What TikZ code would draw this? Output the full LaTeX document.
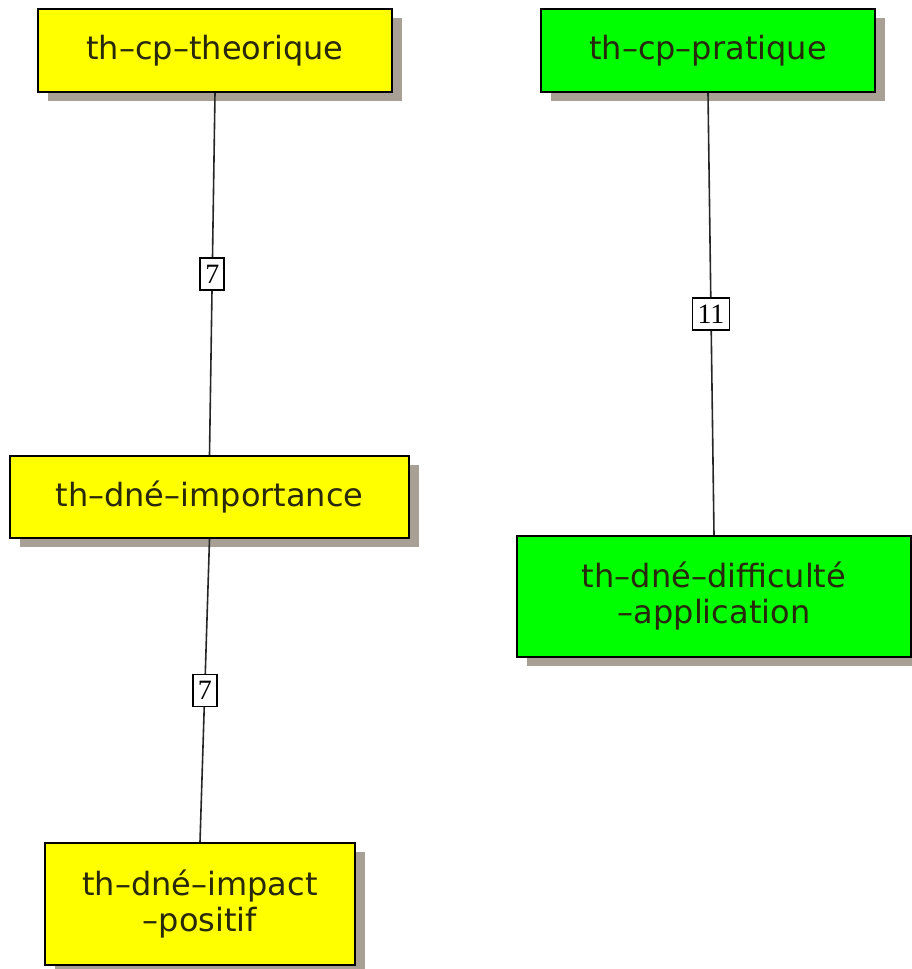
\documentclass[tikz,border=0pt]{standalone}
\usepackage{fontspec}
\setmainfont{DejaVu Sans}
\newfontfamily\labelfont{Liberation Serif}
\usetikzlibrary{shadows}
\definecolor{shadowgray}{RGB}{168,160,148}
\definecolor{boxtext}{RGB}{40,40,10}
\definecolor{boxyellow}{RGB}{255,255,0}
\definecolor{boxgreen}{RGB}{0,255,0}
\tikzset{
  x=1pt, y=-1pt,
  topic/.style={draw=black, line width=2pt, text=boxtext, align=center,
    font=\fontsize{32}{36}\selectfont, inner sep=0pt,
    drop shadow={shadow xshift=10pt, shadow yshift=-9pt, fill=shadowgray, opacity=1}},
  theory/.style={topic, fill=boxyellow},
  practice/.style={topic, fill=boxgreen},
  link/.style={draw=black!85, line width=1.6pt},
  weight/.style={draw=black, fill=white, line width=1.6pt, inner xsep=5pt, inner ysep=7pt,
    font=\labelfont\fontsize{28}{28}\selectfont}
}
\begin{document}
\begin{tikzpicture}
\useasboundingbox (0,0) rectangle (912,969);
\node[theory, minimum width=354pt, minimum height=83pt] (theo) at (215,50.5) {th–cp–theorique};
\node[practice, minimum width=334pt, minimum height=83pt] (prat) at (708,50.5) {th–cp–pratique};
\node[theory, minimum width=399pt, minimum height=82pt] (imp) at (209.5,497) {th–dné–importance};
\node[practice, minimum width=394pt, minimum height=121pt] (diff) at (714,596.5) {th–dné–difficulté\\–application};
\node[theory, minimum width=310pt, minimum height=122pt] (pos) at (200,904) {th–dné–impact\\–positif};
\draw[link] (theo.south) -- node[weight] {7} (imp.north);
\draw[link] (prat.south) -- node[weight] {11} (diff.north);
\draw[link] (imp.south) -- node[weight] {7} (pos.north);
\end{tikzpicture}
\end{document}
